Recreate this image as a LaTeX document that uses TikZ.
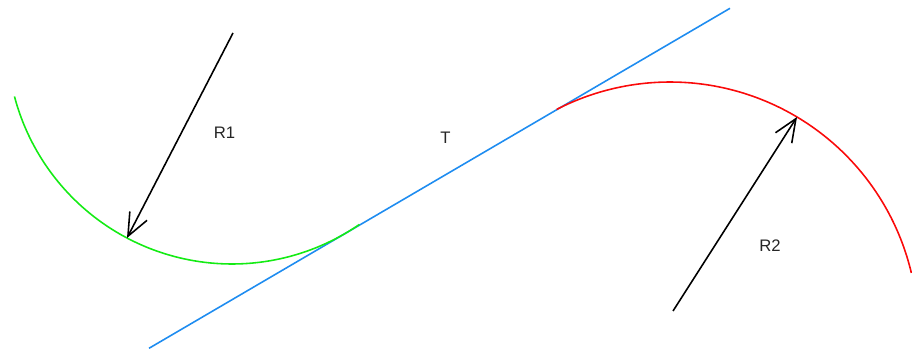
\documentclass[tikz,border=0pt]{standalone}
\usepackage{fontspec}
\setmainfont{Liberation Sans}
\usetikzlibrary{arrows.meta,positioning}
\definecolor{arcGreen}{RGB}{20,235,20}
\definecolor{arcRed}{RGB}{250,10,10}
\definecolor{tanBlue}{RGB}{30,140,240}
\begin{document}
\begin{tikzpicture}[x=0.02cm, y=0.02cm, line width=0.9pt,
    >={Straight Barb[length=13pt, width=11pt, line width=0.9pt]},
    radiusarrow/.style={->, black},
    lbl/.style={font=\fontsize{9.5}{11}\selectfont, text=black!85, inner sep=0pt}]
      \useasboundingbox (0,0) rectangle (912,-351);
      % tangent line T
      \coordinate (t0) at (149,-348.3);
      \coordinate (t1) at (730,-8.3);
      \draw[tanBlue] (t0) -- (t1);
      % first arc with its radius
      \coordinate (c1) at (232,-39);
      \draw[arcGreen] (c1) ++(194.8:225) arc[start angle=194.8, end angle=304.5, radius=225];
      \coordinate (o1) at (233,-33);
      \coordinate (p1) at (127,-238);
      \draw[radiusarrow] (o1) -- (p1);
      \node[lbl] (lblR1) at (224.5,-132.5) {R1};
      % second arc with its radius
      \coordinate (c2) at (670,-330);
      \draw[arcRed] (c2) ++(117.2:248) arc[start angle=117.2, end angle=13.3, radius=248];
      \coordinate (o2) at (673,-311);
      \coordinate (p2) at (797,-117);
      \draw[radiusarrow] (o2) -- (p2);
      \node[lbl] (lblR2) at (770,-246) {R2};
      \node[lbl] (lblT) at (445.5,-137.5) {T};
    \end{tikzpicture}
\end{document}
